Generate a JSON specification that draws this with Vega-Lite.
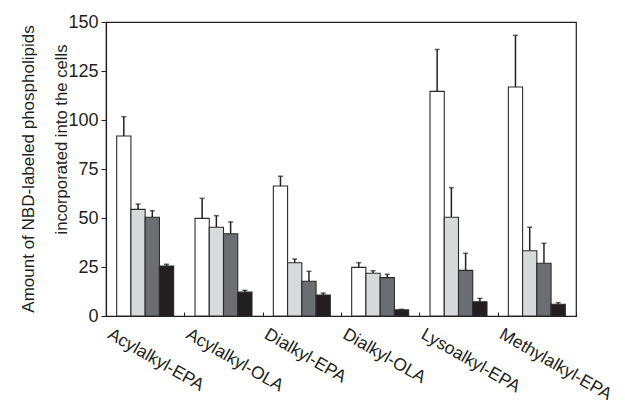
{
  "$schema": "https://vega.github.io/schema/vega-lite/v6.json",
  "autosize": "none",
  "padding": {"left": 106, "top": 22, "right": 49, "bottom": 84},
  "width": 470,
  "height": 294,
  "title": {
    "text": "Amount of NBD-labeled phospholipids",
    "orient": "left",
    "anchor": "middle",
    "frame": "group",
    "font": "Liberation Sans",
    "fontSize": 17,
    "fontWeight": "normal",
    "color": "#231f20",
    "offset": 20,
    "dy": 5
  },
  "config": {
    "view": {"stroke": "#231f20", "strokeWidth": 1.2},
    "font": "Liberation Sans",
    "axis": {
      "labelFont": "Liberation Sans",
      "titleFont": "Liberation Sans",
      "labelColor": "#231f20",
      "titleColor": "#231f20",
      "domainColor": "#231f20",
      "tickColor": "#231f20",
      "grid": false
    }
  },
  "data": {
    "values": [
      {"g": "Acylalkyl-EPA", "s": "s1", "v": 91.8, "e": 101.7},
      {"g": "Acylalkyl-EPA", "s": "s2", "v": 54.4, "e": 57.1},
      {"g": "Acylalkyl-EPA", "s": "s3", "v": 50.4, "e": 53.7},
      {"g": "Acylalkyl-EPA", "s": "s4", "v": 25.5, "e": 26.4},
      {"g": "Acylalkyl-OLA", "s": "s1", "v": 49.8, "e": 60.0},
      {"g": "Acylalkyl-OLA", "s": "s2", "v": 45.3, "e": 51.2},
      {"g": "Acylalkyl-OLA", "s": "s3", "v": 42.0, "e": 48.0},
      {"g": "Acylalkyl-OLA", "s": "s4", "v": 12.2, "e": 13.1},
      {"g": "Dialkyl-EPA", "s": "s1", "v": 66.3, "e": 71.3},
      {"g": "Dialkyl-EPA", "s": "s2", "v": 27.2, "e": 29.1},
      {"g": "Dialkyl-EPA", "s": "s3", "v": 17.7, "e": 22.8},
      {"g": "Dialkyl-EPA", "s": "s4", "v": 10.7, "e": 11.7},
      {"g": "Dialkyl-OLA", "s": "s1", "v": 24.8, "e": 27.2},
      {"g": "Dialkyl-OLA", "s": "s2", "v": 21.8, "e": 23.1},
      {"g": "Dialkyl-OLA", "s": "s3", "v": 19.6, "e": 21.3},
      {"g": "Dialkyl-OLA", "s": "s4", "v": 3.1, "e": 3.4},
      {"g": "Lysoalkyl-EPA", "s": "s1", "v": 114.6, "e": 136.0},
      {"g": "Lysoalkyl-EPA", "s": "s2", "v": 50.4, "e": 65.5},
      {"g": "Lysoalkyl-EPA", "s": "s3", "v": 23.3, "e": 32.0},
      {"g": "Lysoalkyl-EPA", "s": "s4", "v": 7.3, "e": 9.0},
      {"g": "Methylalkyl-EPA", "s": "s1", "v": 116.8, "e": 143.2},
      {"g": "Methylalkyl-EPA", "s": "s2", "v": 33.3, "e": 45.3},
      {"g": "Methylalkyl-EPA", "s": "s3", "v": 26.9, "e": 37.1},
      {"g": "Methylalkyl-EPA", "s": "s4", "v": 6.0, "e": 6.8}
    ]
  },
  "encoding": {
    "x": {
      "field": "g",
      "type": "nominal",
      "sort": null,
      "scale": {"paddingInner": 0, "paddingOuter": 0},
      "axis": {
        "title": null,
        "labelAngle": 30,
        "labelAlign": "left",
        "labelBaseline": "alphabetic",
        "labelFontSize": 17.5,
        "labelOffset": -39,
        "labelPadding": 25,
        "tickBand": "extent",
        "tickSize": -4,
        "domainWidth": 1.2
      }
    },
    "xOffset": {
      "field": "s",
      "type": "nominal",
      "scale": {"paddingInner": 0, "paddingOuter": 0.75}
    }
  },
  "layer": [
    {
      "mark": {"type": "bar", "stroke": "#2b2b2b", "strokeWidth": 1.1},
      "encoding": {
        "y": {
          "field": "v",
          "type": "quantitative",
          "scale": {"domain": [0, 150], "nice": false},
          "axis": {
            "values": [0, 25, 50, 75, 100, 125, 150],
            "labelFontSize": 18,
            "tickSize": 5,
            "labelPadding": 3,
            "domainWidth": 1.2,
            "title": "incorporated into the cells",
            "titleFontSize": 16.7,
            "titleFontWeight": "normal",
            "titleAngle": -90,
            "titleAlign": "center",
            "titleBaseline": "middle",
            "titleX": -45,
            "titleY": 117
          }
        },
        "fill": {
          "field": "s",
          "type": "nominal",
          "scale": {"domain": ["s1", "s2", "s3", "s4"], "range": ["#ffffff", "#d8d9da", "#6d6e71", "#231f20"]},
          "legend": null
        }
      }
    },
    {
      "mark": {"type": "rule", "color": "#231f20", "strokeWidth": 1.5},
      "encoding": {
        "y": {"field": "v", "type": "quantitative"},
        "y2": {"field": "e"}
      }
    },
    {
      "mark": {"type": "tick", "color": "#231f20", "thickness": 1.5, "size": 5, "orient": "horizontal"},
      "encoding": {
        "y": {"field": "e", "type": "quantitative"}
      }
    }
  ]
}
